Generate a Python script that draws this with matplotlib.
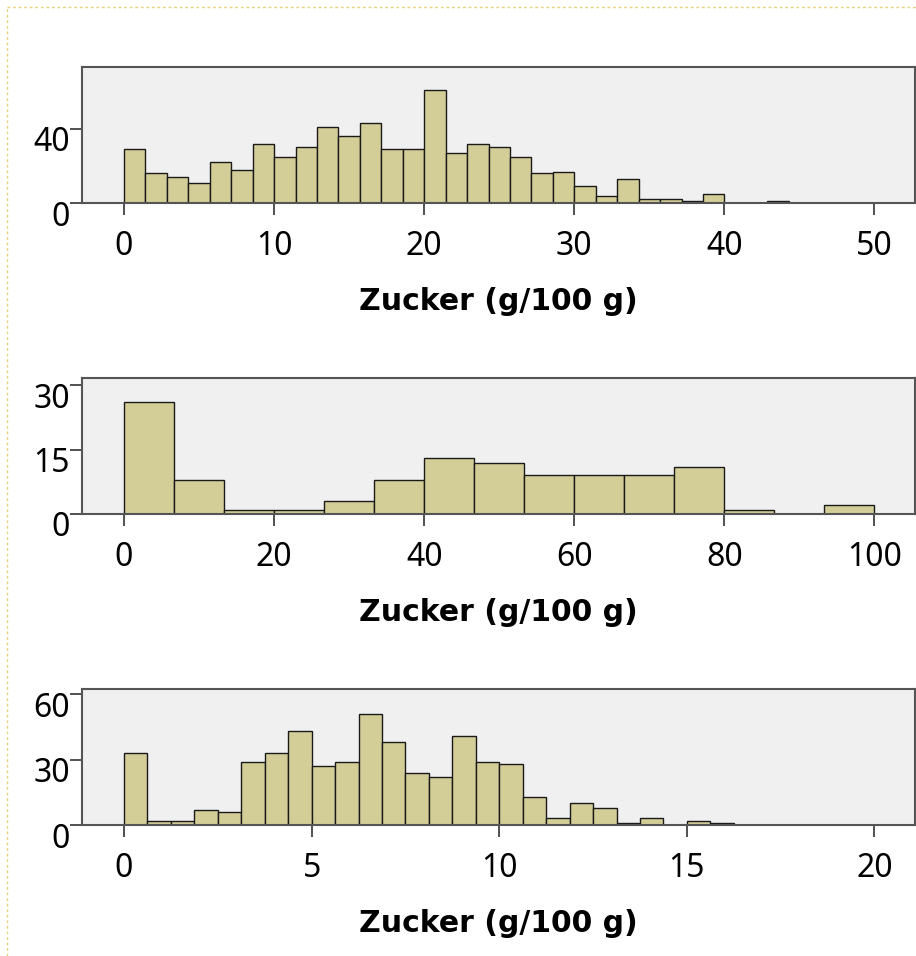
import numpy as np
import matplotlib
matplotlib.use("Agg")
import matplotlib.pyplot as plt
import matplotlib.transforms as mtransforms
from matplotlib.lines import Line2D

plt.rcParams['font.family'] = ['Noto Sans', 'DejaVu Sans']

# counts per bin
counts1 = [29, 16, 14, 11, 22, 18, 32, 25, 30, 41, 36, 43, 29, 29, 61, 27,
           32, 30, 25, 16, 17, 9, 4, 13, 2, 2, 1, 5, 0, 0, 1]
width1 = 10 / 7
counts2 = [26, 8, 1, 1, 3, 8, 13, 12, 9, 9, 9, 11, 1, 0, 2]
width2 = 20 / 3
counts3 = [33, 2, 2, 7, 6, 29, 33, 43, 27, 29, 51, 38, 24, 22, 41, 29,
           28, 13, 3, 10, 8, 1, 3, 0, 2, 1]
width3 = 0.625

xticks1 = [0, 10, 20, 30, 40, 50]
xticks2 = [0, 20, 40, 60, 80, 100]
xticks3 = [0, 5, 10, 15, 20]
yticks1 = [0, 40]
yticks2 = [0, 15, 30]
yticks3 = [0, 30, 60]
xlabel = "Zucker (g/100 g)"

panels = [
    (counts1, width1, xticks1, yticks1, 73.5, 203),
    (counts2, width2, xticks2, yticks2, 31.7, 514),
    (counts3, width3, xticks3, yticks3, 62.5, 825),
]

W, H = 916, 956
fig = plt.figure(figsize=(W / 100, H / 100), dpi=100)
shift_down = mtransforms.ScaledTranslation(0, -10 / 100, fig.dpi_scale_trans)

for counts, w, xt, yt, ytop, ybot in panels:
    ax = fig.add_axes([82 / W, 1 - ybot / H, (915 - 82) / W, 136 / H])
    ax.set_facecolor('#f0f0f0')
    c = np.array(counts)
    left = np.arange(len(c)) * w
    keep = c > 0
    ax.bar(left[keep], c[keep], width=w, align='edge', color='#d3ce97',
           edgecolor='#1a1a1a', linewidth=1.0)
    xmax = xt[-1]
    ax.set_xlim(-0.056 * xmax, 1.054 * xmax)
    ax.set_ylim(0, ytop)
    ax.set_xticks(xt)
    ax.set_yticks(yt)
    ax.tick_params(axis='x', direction='out', length=8.6, width=1.2,
                   pad=11, labelsize=23, color='#333333')
    ax.tick_params(axis='y', direction='out', length=8.6, width=1.2,
                   pad=0, labelsize=23, color='#333333')
    for lab in ax.get_yticklabels():
        lab.set_transform(lab.get_transform() + shift_down)
    for s in ax.spines.values():
        s.set_color('#555555')
        s.set_linewidth(1.5)
    ax.set_xlabel(xlabel, fontsize=21.5, fontweight='bold', family='DejaVu Sans',
                  labelpad=17)

# dashed frame of the output window
fig.add_artist(Line2D([7 / W, 7 / W], [0, 1 - 7 / H], color='#e6d27a',
                      linestyle=(0, (2, 2)), linewidth=1))
fig.add_artist(Line2D([7 / W, 1], [1 - 7 / H, 1 - 7 / H], color='#e6d27a',
                      linestyle=(0, (2, 2)), linewidth=1))

fig.savefig('out.png', dpi=100)
